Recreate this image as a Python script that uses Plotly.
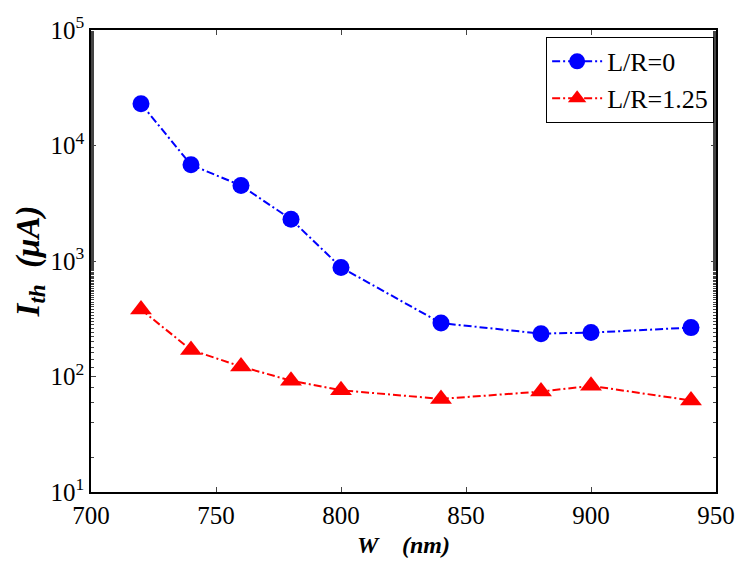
import plotly.graph_objects as go

W = [720, 740, 760, 780, 800, 840, 880, 900, 940]
I_LR0 = [23000, 6800, 4500, 2300, 880, 290, 235, 240, 265]
I_LR125 = [380, 170, 122, 92, 76, 64, 74, 83, 62]
ytickvals = [10, 100, 1000, 10000, 100000]
yticktext = ["10<sup>1</sup>", "10<sup>2</sup>", "10<sup>3</sup>", "10<sup>4</sup>", "10<sup>5</sup>"]
xtickvals = [700, 750, 800, 850, 900, 950]

dash = "8px,3px,2px,3px"
fig = go.Figure()
fig.add_trace(go.Scatter(x=W, y=I_LR0, mode="lines+markers", name="L/R=0",
                         line=dict(color="#0000ff", width=2, dash=dash),
                         marker=dict(symbol="circle", size=17, color="#0000ff")))
fig.add_trace(go.Scatter(x=W, y=I_LR125, mode="lines+markers", name="L/R=1.25",
                         line=dict(color="#ff0000", width=2, dash=dash),
                         marker=dict(symbol="triangle-up", size=19, color="#ff0000")))

font = "Liberation Serif"
fig.update_layout(
    width=747, height=570,
    margin=dict(l=91, r=22, t=22, b=78),
    plot_bgcolor="white", paper_bgcolor="white",
    font=dict(family=font, size=25, color="black"),
    legend=dict(x=0.997, y=0.985, xanchor="right", yanchor="top",
                bordercolor="black", borderwidth=1, bgcolor="white",
                font=dict(family=font, size=26), itemwidth=50,
                tracegroupgap=0),
    xaxis=dict(range=[700, 950], tickvals=xtickvals, ticks="inside", ticklen=5,
               tickfont=dict(family=font, size=25),
               showline=True, linecolor="black", linewidth=1.5, mirror="ticks",
               showgrid=False, zeroline=False,
               title=dict(text="<b><i>W    (nm)</i></b>", font=dict(family=font, size=24), standoff=8)),
    yaxis=dict(type="log", range=[1, 5], tickvals=ytickvals, ticktext=yticktext,
               tickfont=dict(family=font, size=25),
               ticks="inside", ticklen=5,
               showline=True, linecolor="black", linewidth=1.5, mirror="ticks",
               showgrid=False, zeroline=False,
               minor=dict(ticks="inside", ticklen=3, showgrid=False),
               title=dict(text="<b><i>I<sub>th</sub>  (μA)</i></b>", font=dict(family=font, size=33), standoff=0)),
)
fig.write_html("out.html")
